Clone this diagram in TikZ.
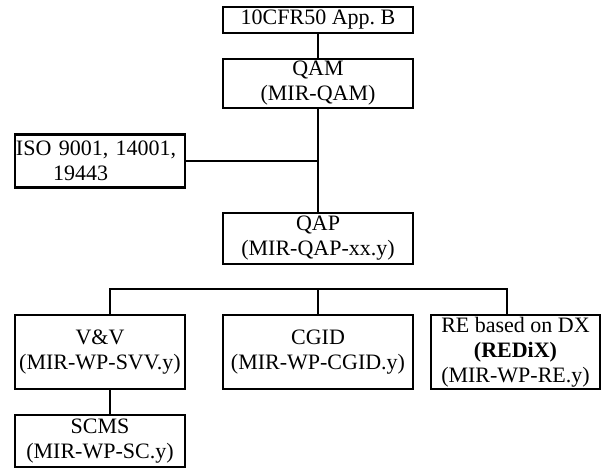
\documentclass[tikz,border=0pt]{standalone}
\usepackage{fontspec}
\setmainfont{Liberation Serif}
\begin{document}
\begin{tikzpicture}[x=1pt,y=1pt,
  box/.style={draw, line width=2.2pt, inner sep=0pt, align=center,
    font=\fontsize{22}{25}\selectfont},
  conn/.style={line width=2.2pt}]
\useasboundingbox (0,0) rectangle (601,-468);
\node[box, minimum width=190pt, minimum height=26pt] (cfr) at (318,-20) {10CFR50 App.\ B};
\node[box, minimum width=190pt, minimum height=49pt] (qam) at (318,-83.5) {QAM\\(MIR-QAM)};
\node[box, minimum width=170pt, minimum height=53pt, align=left, text width=168pt] (iso) at (100,-161) {ISO 9001, 14001,\\\hspace*{37pt}19443};
\node[box, minimum width=190pt, minimum height=51pt] (qap) at (318,-238.5) {QAP\\(MIR-QAP-xx.y)};
\node[box, minimum width=170pt, minimum height=74pt] (vv) at (100,-352) {V\&V\\(MIR-WP-SVV.y)};
\node[box, minimum width=190pt, minimum height=74pt] (cgid) at (318,-352) {CGID\\(MIR-WP-CGID.y)};
\node[box, minimum width=169pt, minimum height=74pt] (re) at (515.5,-352) {RE based on DX\\\textbf{(REDiX)}\\(MIR-WP-RE.y)};
\node[box, minimum width=170pt, minimum height=52pt] (scms) at (100,-441) {SCMS\\(MIR-WP-SC.y)};
\coordinate (busL) at (110,-289);
\coordinate (busR) at (507,-289);
\draw[conn] (cfr.south) -- (qam.north);
\draw[conn] (qam.south) -- (qap.north);
\draw[conn] (iso.east) -- (iso.east -| qam.south);
\draw[conn, line join=miter] (busL |- vv.north) -- (busL) -- (busR) -- (busR |- re.north);
\draw[conn] (cgid.north) -- (cgid.north |- busL);
\draw[conn] (vv.south -| busL) -- (scms.north -| busL);
\end{tikzpicture}
\end{document}
